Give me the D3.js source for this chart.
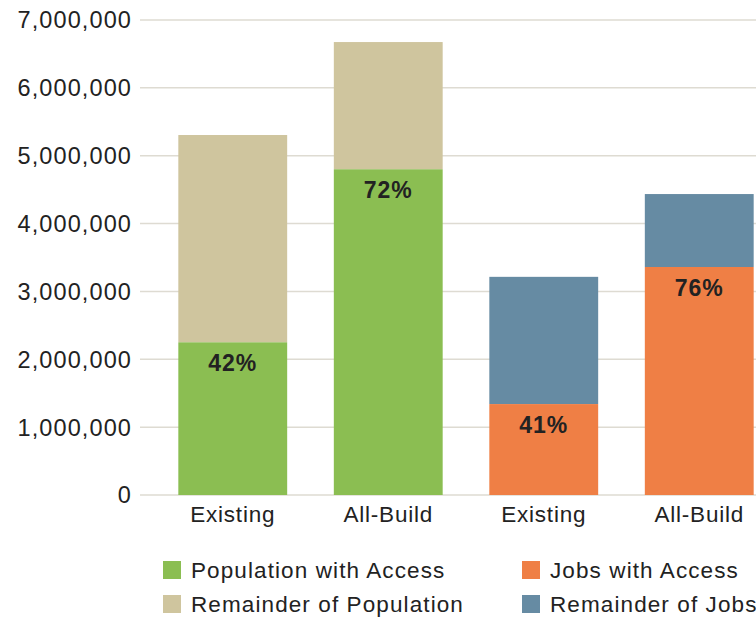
<!DOCTYPE html>
<html><head><meta charset="utf-8">
<script src="https://cdn.jsdelivr.net/npm/d3@7"></script>
<style>body{margin:0;background:#fff;} svg{display:block;} text{font-family:"Liberation Sans",Arial,sans-serif;fill:#222;}</style>
</head><body>
<svg id="c" width="756" height="620"></svg>
<script>
const categories = ["Existing", "All-Build", "Existing", "All-Build"];
const groups = ["pop", "pop", "jobs", "jobs"];
const withAccess = [2250000, 4800000, 1340000, 3360000];
const remainder = [3055000, 1875000, 1875000, 1075000];
const pctLabels = ["42%", "72%", "41%", "76%"];
const yTicks = [0, 1000000, 2000000, 3000000, 4000000, 5000000, 6000000, 7000000];
const legendItems = [
  {label: "Population with Access", key: "popA"},
  {label: "Jobs with Access", key: "jobsA"},
  {label: "Remainder of Population", key: "popR"},
  {label: "Remainder of Jobs", key: "jobsR"}
];
const colors = {popA: "#8bbe52", popR: "#cfc59e", jobsA: "#ef7f45", jobsR: "#668ba3"};

const svg = d3.select("#c");
const ids = categories.map((c, i) => i);
const x = d3.scaleBand().domain(ids).range([155, 777]).paddingInner(0.3).paddingOuter(0.15);
const y = d3.scaleLinear().domain([0, 7000000]).range([495, 20]);

// gridlines
svg.append("g").selectAll("line").data(yTicks).join("line")
  .attr("x1", 140).attr("x2", 756)
  .attr("y1", d => y(d)).attr("y2", d => y(d))
  .attr("stroke", "#dedbd2").attr("stroke-width", 1.5);

// y labels
svg.append("g").selectAll("text").data(yTicks).join("text")
  .attr("x", 132).attr("y", d => y(d)).attr("dy", "0.36em")
  .attr("text-anchor", "end").attr("font-size", 23.5).attr("letter-spacing", 1.1)
  .text(d => d3.format(",")(d));

// bars
const g = svg.append("g");
ids.forEach(i => {
  const aKey = groups[i] === "pop" ? "popA" : "jobsA";
  const rKey = groups[i] === "pop" ? "popR" : "jobsR";
  const total = withAccess[i] + remainder[i];
  g.append("rect").attr("x", x(i)).attr("width", x.bandwidth())
    .attr("y", y(total)).attr("height", y(withAccess[i]) - y(total)).attr("fill", colors[rKey]);
  g.append("rect").attr("x", x(i)).attr("width", x.bandwidth())
    .attr("y", y(withAccess[i])).attr("height", y(0) - y(withAccess[i])).attr("fill", colors[aKey]);
  g.append("text").attr("x", x(i) + x.bandwidth() / 2).attr("y", y(withAccess[i]) + 29)
    .attr("text-anchor", "middle").attr("font-size", 23).attr("font-weight", "bold")
    .attr("letter-spacing", 1.0).attr("fill", "#1a1a1a").text(pctLabels[i]);
});

// x labels
svg.append("g").selectAll("text").data(ids).join("text")
  .attr("x", d => x(d) + x.bandwidth() / 2).attr("y", 522)
  .attr("text-anchor", "middle").attr("font-size", 22.5).attr("letter-spacing", 0.8)
  .text(d => categories[d]);

// legend
const lg = svg.append("g");
legendItems.forEach((it, i) => {
  const col = i % 2, row = Math.floor(i / 2);
  const lx = col === 0 ? 163 : 522, ly = 561 + row * 34;
  lg.append("rect").attr("x", lx).attr("y", ly).attr("width", 18).attr("height", 18).attr("fill", colors[it.key]);
  lg.append("text").attr("x", lx + 28).attr("y", ly + 9).attr("dy", "0.36em")
    .attr("font-size", 22.5).attr("letter-spacing", 1.1).text(it.label);
});
</script>
</body></html>
